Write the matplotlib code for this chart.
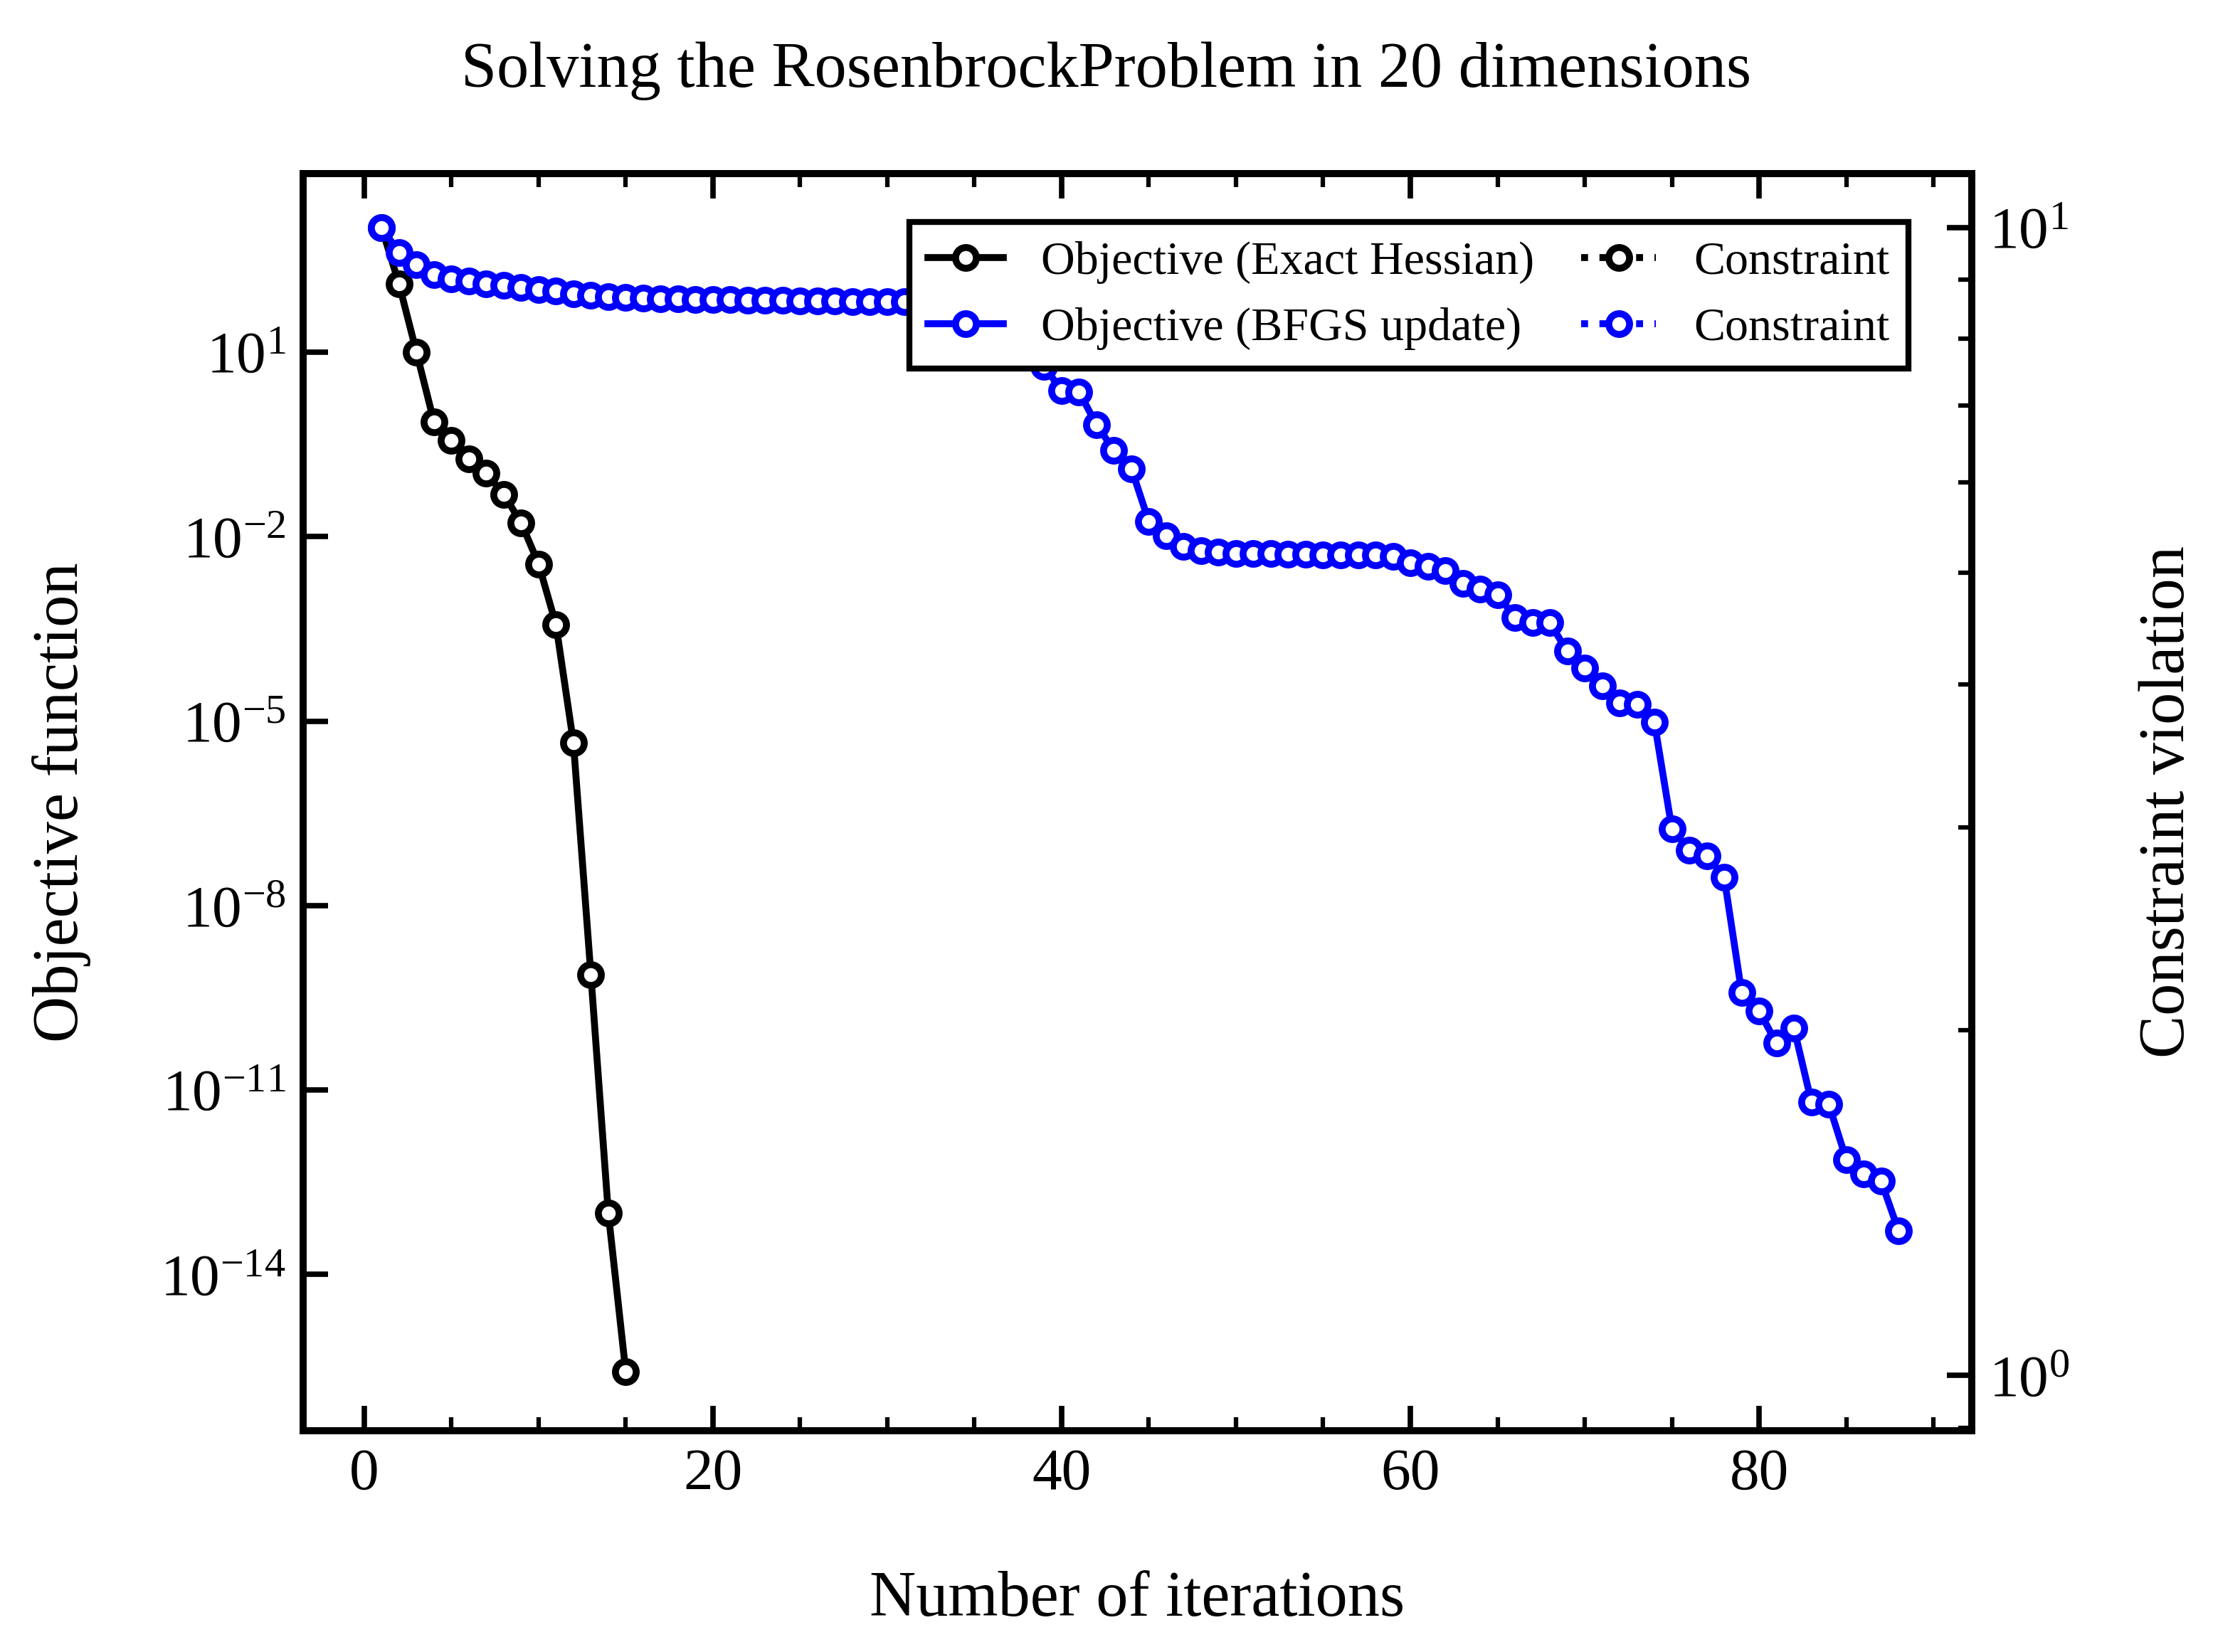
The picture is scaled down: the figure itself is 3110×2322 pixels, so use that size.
import numpy as np
import matplotlib.pyplot as plt
from matplotlib.ticker import LogLocator, AutoMinorLocator, NullLocator

plt.rcParams['font.family'] = ['Liberation Serif', 'DejaVu Serif']
plt.rcParams['mathtext.fontset'] = 'stix'

# exponents (log10) of objective values
exact_exp = [3.03, 2.11, 1.0, -0.13, -0.43, -0.73, -0.96, -1.31, -1.77, -2.44,
             -3.43, -5.35, -9.12, -13.0, -15.58]
bfgs_exp = [3.03, 2.62, 2.43, 2.27, 2.20, 2.16, 2.11, 2.09, 2.06, 2.02,
            2.00, 1.95, 1.93, 1.91, 1.89, 1.88, 1.87, 1.87, 1.86, 1.86,
            1.86, 1.85, 1.85, 1.85, 1.84, 1.84, 1.84, 1.83, 1.83, 1.82,
            1.82, 1.81, 1.80, 1.79, 1.78, 1.76, 1.70, 1.47, 0.77, 0.38,
            0.36, -0.18, -0.59, -0.89, -1.75, -1.98, -2.16, -2.23, -2.25, -2.27,
            -2.27, -2.27, -2.28, -2.28, -2.29, -2.29, -2.29, -2.29, -2.32, -2.42,
            -2.48, -2.55, -2.76, -2.85, -2.94, -3.31, -3.40, -3.40, -3.86, -4.14,
            -4.42, -4.70, -4.72, -5.02, -6.75, -7.10, -7.19, -7.54, -9.41, -9.71,
            -10.24, -9.99, -11.19, -11.23, -12.13, -12.36, -12.48, -13.29]
exact_iter = np.arange(1, len(exact_exp) + 1)
bfgs_iter = np.arange(1, len(bfgs_exp) + 1)

fig = plt.figure(figsize=(6.22, 4.644), dpi=500)
ax = fig.add_axes([0.137, 0.134, 0.754, 0.761])
ax2 = ax.twinx()

mk = dict(marker='o', markersize=4.2, markerfacecolor='white', markeredgewidth=1.4, lw=1.4)
l1, = ax.plot(exact_iter, 10.0 ** np.array(exact_exp), color='black', label='Objective (Exact Hessian)', **mk)
l2, = ax.plot(bfgs_iter, 10.0 ** np.array(bfgs_exp), color='blue', label='Objective (BFGS update)', **mk)
# constraint violations (none visible on the chart)
c1, = ax2.plot([], [], color='black', ls=':', label='Constraint', **mk)
c2, = ax2.plot([], [], color='blue', ls=':', label='Constraint', **mk)

ax.set_yscale('log')
ax.set_xlim(-3.5, 92.2)
ax.set_ylim(10 ** -16.54, 10 ** 3.91)
ax.yaxis.set_major_locator(LogLocator(base=1000.0, numticks=20))
ax.set_yticks([10.0 ** e for e in range(-14, 2, 3)])
ax.yaxis.set_minor_locator(NullLocator())
ax.xaxis.set_minor_locator(AutoMinorLocator(4))
ax.set_xticks([0, 20, 40, 60, 80])

ax2.set_yscale('log')
ax2.set_ylim(10 ** -0.048, 10 ** 1.047)

for a in (ax, ax2):
    a.tick_params(which='major', direction='in', length=5, width=1.1, labelsize=12)
    a.tick_params(which='minor', direction='in', length=2.8, width=0.9)
    for s in a.spines.values():
        s.set_linewidth(1.4)
ax.tick_params(which='both', top=True)

ax.set_xlabel('Number of iterations', fontsize=13, labelpad=14)
ax.set_ylabel('Objective function', fontsize=13, labelpad=14)
ax2.set_ylabel('Constraint violation', fontsize=13, labelpad=14)
fig.suptitle('Solving the RosenbrockProblem in 20 dimensions', fontsize=13, y=0.975)

leg = ax.legend([l1, l2, c1, c2], [h.get_label() for h in (l1, l2, c1, c2)],
                ncol=2, loc='upper right', fontsize=9.5, fancybox=False,
                edgecolor='black', framealpha=1, handlelength=1.6,
                columnspacing=1.0, bbox_to_anchor=(0.976, 0.98))
leg.get_frame().set_linewidth(1.2)

fig.savefig('out.png', dpi=500)
